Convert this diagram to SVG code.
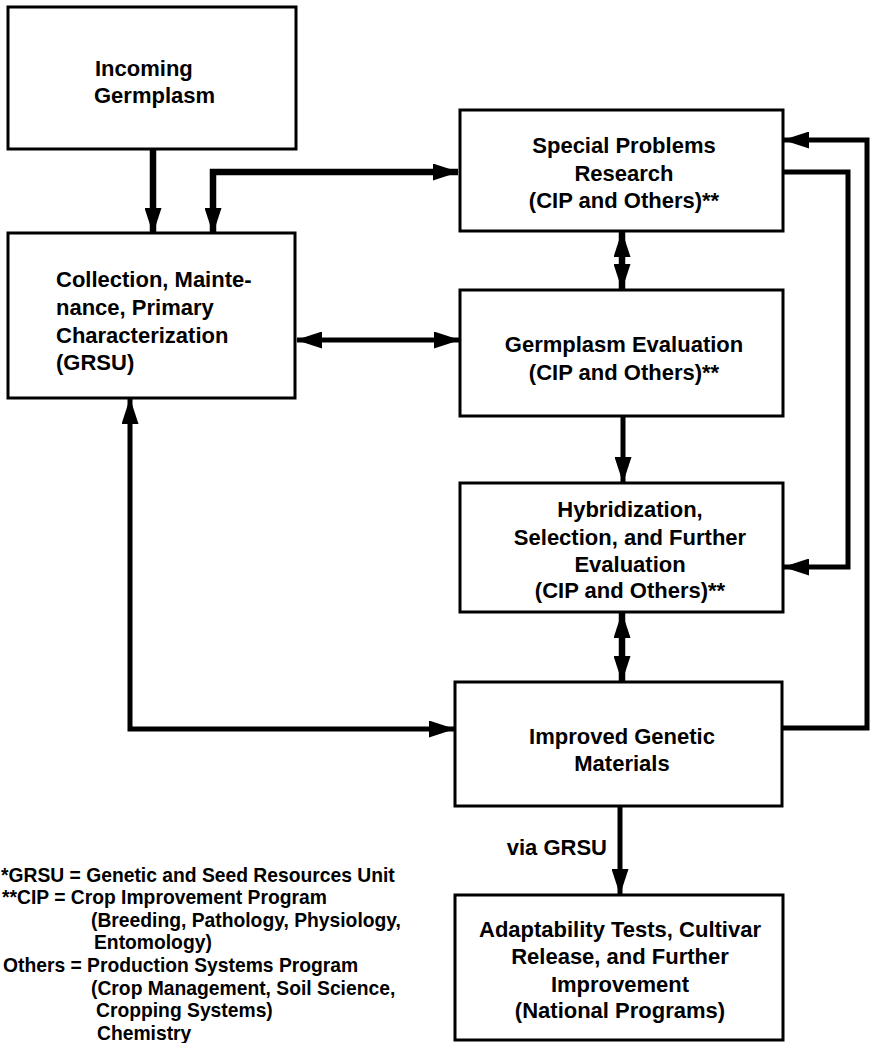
<svg xmlns="http://www.w3.org/2000/svg" width="871" height="1043" viewBox="0 0 871 1043">
<style>
.box{fill:#fff;stroke:#000;stroke-width:3}
.t{font-family:"Liberation Sans",Arial,Helvetica,sans-serif;font-weight:bold;font-size:22px;fill:#000}
.c{text-anchor:middle}
.leg{font-family:"Liberation Sans",Arial,Helvetica,sans-serif;font-weight:bold;font-size:19.3px;fill:#000}
.ln{fill:none;stroke:#000;stroke-width:5;stroke-linejoin:miter}
.thick{stroke-width:6.5}
</style>
<defs>
<marker id="ah" markerUnits="userSpaceOnUse" markerWidth="26" markerHeight="17" refX="25" refY="8.5" orient="auto-start-reverse" viewBox="0 0 26 17">
<path d="M0,0 L26,8.5 L0,17 z" fill="#000"/>
</marker>
</defs>
<rect width="871" height="1043" fill="#fff"/>
<g id="connectors">
<line class="ln thick" x1="153" y1="149" x2="153" y2="233" marker-end="url(#ah)"/>
<path class="ln thick" d="M213,233 L213,172 L458,172" marker-start="url(#ah)" marker-end="url(#ah)"/>
<line class="ln" x1="297" y1="340" x2="459" y2="340" marker-start="url(#ah)" marker-end="url(#ah)"/>
<line class="ln thick" x1="622" y1="232" x2="622" y2="289" marker-start="url(#ah)" marker-end="url(#ah)"/>
<line class="ln" x1="623" y1="417" x2="623" y2="482" marker-end="url(#ah)"/>
<line class="ln thick" x1="622" y1="613" x2="622" y2="681" marker-start="url(#ah)" marker-end="url(#ah)"/>
<path class="ln" d="M130,399 L130,729 L454,729" marker-start="url(#ah)" marker-end="url(#ah)"/>
<line class="ln" x1="620" y1="807" x2="620" y2="894" marker-end="url(#ah)"/>
<path class="ln" d="M783,172 L848,172 L848,567 L784,567" marker-end="url(#ah)"/>
<path class="ln" d="M782,728 L867,728 L867,140 L784,140" marker-end="url(#ah)"/>
</g>
<g id="incoming">
<rect class="box" x="8" y="7" width="288" height="142"/>
<text class="t" x="95" y="76">Incoming</text>
<text class="t" x="94" y="103">Germplasm</text>
</g>
<g id="collection">
<rect class="box" x="8" y="233" width="287" height="165"/>
<text class="t" x="56" y="287">Collection, Mainte-</text>
<text class="t" x="56" y="315">nance, Primary</text>
<text class="t" x="56" y="343">Characterization</text>
<text class="t" x="56" y="370">(GRSU)</text>
</g>
<g id="special">
<rect class="box" x="460" y="110" width="323" height="121"/>
<text class="t c" x="624" y="153">Special Problems</text>
<text class="t c" x="624" y="181">Research</text>
<text class="t c" x="624" y="208">(CIP and Others)**</text>
</g>
<g id="evaluation">
<rect class="box" x="460" y="290" width="323" height="126"/>
<text class="t c" x="624" y="352">Germplasm Evaluation</text>
<text class="t c" x="624" y="380">(CIP and Others)**</text>
</g>
<g id="hybridization">
<rect class="box" x="460" y="483" width="323" height="129"/>
<text class="t c" x="630" y="517">Hybridization,</text>
<text class="t c" x="630" y="545">Selection, and Further</text>
<text class="t c" x="630" y="572">Evaluation</text>
<text class="t c" x="630" y="598">(CIP and Others)**</text>
</g>
<g id="improved">
<rect class="box" x="455" y="682" width="327" height="124"/>
<text class="t c" x="622" y="744">Improved Genetic</text>
<text class="t c" x="622" y="771">Materials</text>
</g>
<g id="adaptability">
<rect class="box" x="455" y="895" width="328" height="145"/>
<text class="t c" x="620" y="937">Adaptability Tests, Cultivar</text>
<text class="t c" x="620" y="964">Release, and Further</text>
<text class="t c" x="620" y="992">Improvement</text>
<text class="t c" x="620" y="1018">(National Programs)</text>
</g>
<g id="via-label">
<text class="t" x="607" y="855" text-anchor="end">via GRSU</text>
</g>
<g id="legend">
<text class="leg" x="1" y="882">*GRSU = Genetic and Seed Resources Unit</text>
<text class="leg" x="2" y="904">**CIP = Crop Improvement Program</text>
<text class="leg" x="91" y="927">(Breeding, Pathology, Physiology,</text>
<text class="leg" x="94" y="949">Entomology)</text>
<text class="leg" x="3" y="972">Others = Production Systems Program</text>
<text class="leg" x="91" y="995">(Crop Management, Soil Science,</text>
<text class="leg" x="96" y="1017">Cropping Systems)</text>
<text class="leg" x="97" y="1040">Chemistry</text>
</g>
</svg>
